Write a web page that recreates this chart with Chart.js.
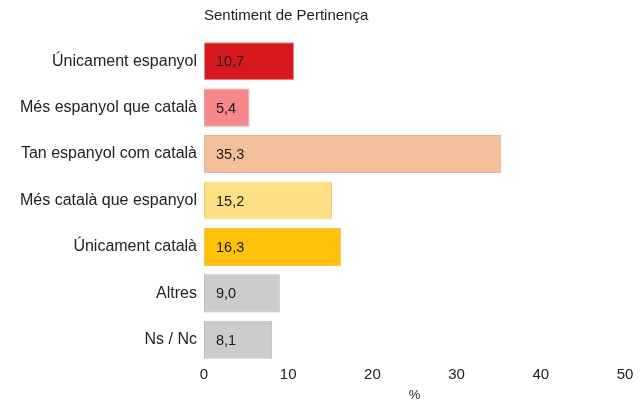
<!DOCTYPE html>
<html>
<head>
<meta charset="utf-8">
<script src="https://cdn.jsdelivr.net/npm/chart.js@4/dist/chart.umd.min.js"></script>
<style>
  html, body { margin: 0; padding: 0; background: #fff; }
  #wrap { width: 640px; height: 401px; position: relative; }
</style>
</head>
<body>
<div id="wrap"><canvas id="chart"></canvas></div>
<script>
// data
const chartTitle = "Sentiment de Pertinença";
const categories = [
  "Únicament espanyol",
  "Més espanyol que català",
  "Tan espanyol com català",
  "Més català que espanyol",
  "Únicament català",
  "Altres",
  "Ns / Nc"
];
const values = [10.7, 5.4, 35.3, 15.2, 16.3, 9.0, 8.1];
const barColors = ["#d7191f", "#f4888b", "#f4bf9b", "#ffdf85", "#ffc10a", "#cccccc", "#cccccc"];
const borderColors = ["#e08a8c", "#e8a0a2", "#e3b496", "#f0d48a", "#f0c65a", "#b8b8b8", "#b8b8b8"];
const xTicks = [0, 10, 20, 30, 40, 50];
const xTitle = "%";

const fontFamily = "'Liberation Sans', Arial, sans-serif";

// title above the plot + value labels inside bars
const labelsPlugin = {
  id: "labelsPlugin",
  afterDatasetsDraw(chart) {
    const ctx = chart.ctx;
    const area = chart.chartArea;
    ctx.save();
    ctx.font = "15px " + fontFamily;
    ctx.fillStyle = "#222";
    ctx.textBaseline = "middle";
    ctx.textAlign = "left";
    ctx.fillText(chartTitle, area.left, 16);

    ctx.font = "14.5px " + fontFamily;
    const meta = chart.getDatasetMeta(0);
    meta.data.forEach((bar, i) => {
      const txt = values[i].toFixed(1).replace(".", ",");
      ctx.fillStyle = "#1a1a1a";
      ctx.fillText(txt, bar.base + 12, bar.y + 1);
    });
    ctx.restore();
  }
};

new Chart(document.getElementById("chart"), {
  type: "bar",
  data: {
    labels: categories,
    datasets: [{
      data: values,
      backgroundColor: barColors,
      borderColor: borderColors,
      borderWidth: 1,
      borderSkipped: false,
      categoryPercentage: 1,
      barPercentage: 0.82
    }]
  },
  options: {
    indexAxis: "y",
    responsive: true,
    maintainAspectRatio: false,
    animation: false,
    layout: { padding: { top: 38, right: 15, bottom: 0, left: 0 } },
    plugins: {
      legend: { display: false },
      tooltip: { enabled: false }
    },
    scales: {
      x: {
        min: 0,
        max: 50,
        afterBuildTicks: (scale) => { scale.ticks = xTicks.map(v => ({ value: v })); },
        afterFit: (scale) => { scale.height = 38; },
        grid: { display: false, drawTicks: false },
        border: { display: false },
        ticks: {
          padding: 3,
          color: "#222",
          font: { family: fontFamily, size: 15 }
        },
        title: {
          display: true,
          text: xTitle,
          color: "#222",
          padding: { top: 0, bottom: -2 },
          font: { family: fontFamily, size: 13 }
        }
      },
      y: {
        afterFit: (scale) => { scale.width = 204; },
        grid: { display: false, drawTicks: false },
        border: { display: false },
        ticks: {
          padding: 7,
          color: "#222",
          font: { family: fontFamily, size: 16 }
        }
      }
    }
  },
  plugins: [labelsPlugin]
});
</script>
</body>
</html>
